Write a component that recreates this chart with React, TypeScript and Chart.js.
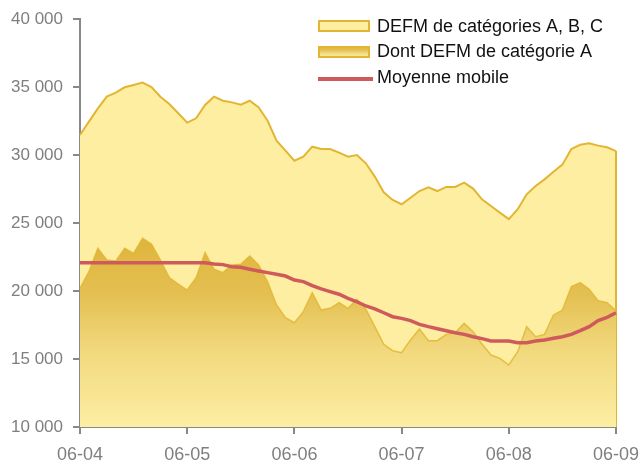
import React, { useEffect, useRef } from 'react';
import { Chart, registerables } from 'chart.js';

Chart.register(...registerables);

const months = [
  '06-04', '07-04', '08-04', '09-04', '10-04', '11-04', '12-04', '01-05', '02-05', '03-05', '04-05', '05-05',
  '06-05', '07-05', '08-05', '09-05', '10-05', '11-05', '12-05', '01-06', '02-06', '03-06', '04-06', '05-06',
  '06-06', '07-06', '08-06', '09-06', '10-06', '11-06', '12-06', '01-07', '02-07', '03-07', '04-07', '05-07',
  '06-07', '07-07', '08-07', '09-07', '10-07', '11-07', '12-07', '01-08', '02-08', '03-08', '04-08', '05-08',
  '06-08', '07-08', '08-08', '09-08', '10-08', '11-08', '12-08', '01-09', '02-09', '03-09', '04-09', '05-09',
  '06-09',
];

const defmABC = [
  31470, 32450, 33430, 34290, 34580, 34980, 35150, 35320, 35000, 34290, 33750, 33070,
  32380, 32700, 33680, 34290, 33990, 33870, 33700, 33990, 33500, 32520, 31050, 30320,
  29580, 29880, 30610, 30440, 30440, 30180, 29880, 30000, 29390, 28410, 27260, 26690,
  26380, 26860, 27350, 27620, 27350, 27650, 27650, 27970, 27530, 26740, 26250, 25760,
  25290, 26010, 27110, 27720, 28210, 28770, 29290, 30440, 30760, 30860, 30690, 30570,
  30290,
];

const defmA = [
  20200, 21420, 23140, 22280, 22200, 23140, 22770, 23870, 23460, 22280, 20980, 20510,
  20070, 20980, 22820, 21600, 21350, 21910, 21960, 22570, 21910, 20680, 18970, 18040,
  17670, 18480, 19880, 18600, 18730, 19140, 18730, 19390, 18650, 17380, 16080, 15610,
  15460, 16400, 17210, 16350, 16350, 16810, 16930, 17620, 17010, 16100, 15290, 15050,
  14560, 15540, 17380, 16640, 16810, 18240, 18600, 20320, 20610, 20120, 19290, 19140,
  18550,
];

const movingAvg = [
  22080, 22080, 22080, 22080, 22080, 22080, 22080, 22080, 22080, 22080, 22080, 22080,
  22080, 22080, 22080, 21980, 21940, 21790, 21740, 21600, 21470, 21350, 21230, 21100,
  20810, 20690, 20390, 20150, 19950, 19760, 19460, 19210, 18900, 18680, 18400, 18110,
  17990, 17820, 17550, 17380, 17230, 17080, 16930, 16810, 16640, 16500, 16320, 16320,
  16320, 16200, 16200, 16320, 16400, 16520, 16640, 16810, 17080, 17380, 17820, 18060,
  18400,
];

const seriesNames = ['DEFM de catégories A, B, C', 'Dont DEFM de catégorie A', 'Moyenne mobile'];

const GOLD = '#E2B633';
const LIGHT = '#FDEEA1';
const RED = '#CE5A5C';
const AXIS = '#888888';
const TICK_TEXT = '#7F7F7F';
const FONT = "'Liberation Sans', Arial, sans-serif";

function makeInnerGradient(ctx: CanvasRenderingContext2D, top: number, bottom: number) {
  const g = ctx.createLinearGradient(0, top, 0, bottom);
  g.addColorStop(0, '#DFB43C');
  g.addColorStop(0.3, '#E4C052');
  g.addColorStop(0.6, '#F2D97E');
  g.addColorStop(1, '#FCEEA3');
  return g;
}

const edgePlugin = {
  id: 'edgeLine',
  afterDatasetDraw(chart: any, args: any) {
    if (args.index !== 2) return;
    const meta = chart.getDatasetMeta(2);
    const last = meta.data[meta.data.length - 1];
    if (!last) return;
    const ctx = chart.ctx;
    ctx.save();
    ctx.strokeStyle = GOLD;
    ctx.lineWidth = 2;
    ctx.beginPath();
    ctx.moveTo(last.x, last.y);
    ctx.lineTo(last.x, chart.chartArea.bottom);
    ctx.stroke();
    ctx.restore();
  },
};

const legendPlugin = {
  id: 'customLegend',
  afterDraw(chart: any) {
    const ctx = chart.ctx as CanvasRenderingContext2D;
    ctx.save();
    const bx = 319;
    const bw = 50;
    const tx = 377;
    ctx.font = `18px ${FONT}`;
    ctx.textBaseline = 'alphabetic';
    ctx.textAlign = 'left';

    ctx.fillStyle = LIGHT;
    ctx.fillRect(bx, 21, bw, 10);
    ctx.strokeStyle = GOLD;
    ctx.lineWidth = 2;
    ctx.strokeRect(bx, 21, bw, 10);
    ctx.fillStyle = '#111111';
    ctx.fillText(seriesNames[0], tx, 31.5);

    ctx.fillStyle = makeInnerGradient(ctx, 47, 57);
    ctx.fillRect(bx, 47, bw, 10);
    ctx.strokeStyle = GOLD;
    ctx.strokeRect(bx, 47, bw, 10);
    ctx.fillStyle = '#111111';
    ctx.fillText(seriesNames[1], tx, 57.3);

    ctx.strokeStyle = RED;
    ctx.lineWidth = 4;
    ctx.beginPath();
    ctx.moveTo(318, 79);
    ctx.lineTo(373, 79);
    ctx.stroke();
    ctx.fillStyle = '#111111';
    ctx.fillText(seriesNames[2], tx, 83);
    ctx.restore();
  },
};

export default function App() {
  const ref = useRef<HTMLCanvasElement | null>(null);

  useEffect(() => {
    if (!ref.current) return;
    const chart = new Chart(ref.current, {
      type: 'line',
      data: {
        labels: months,
        datasets: [
          {
            label: seriesNames[2],
            data: movingAvg,
            borderColor: RED,
            borderWidth: 3.5,
            fill: false,
            pointRadius: 0,
            tension: 0,
            order: 0,
          },
          {
            label: seriesNames[1],
            data: defmA,
            borderColor: 'rgba(226,182,50,0.85)',
            borderWidth: 1.5,
            fill: 'start',
            backgroundColor: (c: any) => {
              const ch = c.chart;
              const area = ch.chartArea;
              if (!area) return '#E4C052';
              const top = ch.scales.y.getPixelForValue(Math.max(...defmA));
              return makeInnerGradient(ch.ctx, top, area.bottom);
            },
            pointRadius: 0,
            tension: 0,
            order: 1,
          },
          {
            label: seriesNames[0],
            data: defmABC,
            borderColor: GOLD,
            borderWidth: 2,
            fill: 'start',
            backgroundColor: LIGHT,
            pointRadius: 0,
            tension: 0,
            order: 2,
          },
        ],
      },
      options: {
        animation: false,
        responsive: true,
        maintainAspectRatio: false,
        layout: { padding: { top: 19, right: 24, left: 0, bottom: 0 } },
        plugins: {
          legend: { display: false },
          tooltip: { enabled: false },
        },
        scales: {
          x: {
            type: 'category',
            offset: false,
            afterFit: (s: any) => {
              s.height = 37;
              s.paddingLeft = 0;
              s.paddingRight = 0;
            },
            border: { display: true, color: AXIS, width: 2 },
            grid: {
              display: true,
              drawOnChartArea: false,
              drawTicks: true,
              tickLength: 7,
              tickWidth: 2,
              lineWidth: 2,
              tickColor: (c: any) => (c.index % 12 === 0 ? AXIS : 'rgba(0,0,0,0)'),
            },
            ticks: {
              autoSkip: false,
              maxRotation: 0,
              minRotation: 0,
              padding: 10,
              color: TICK_TEXT,
              font: { family: FONT, size: 18 },
              callback: (_v: any, i: number) => (i % 12 === 0 ? months[i] : ''),
            },
          },
          y: {
            min: 10000,
            max: 40000,
            afterFit: (s: any) => {
              s.width = 80;
              s.paddingTop = 0;
              s.paddingBottom = 0;
            },
            border: { display: true, color: AXIS, width: 2 },
            grid: {
              display: true,
              drawOnChartArea: false,
              drawTicks: true,
              tickLength: 7,
              tickWidth: 2,
              lineWidth: 2,
              tickColor: AXIS,
            },
            ticks: {
              stepSize: 5000,
              padding: 10,
              color: TICK_TEXT,
              font: { family: FONT, size: 17 },
              callback: (v: any) => `${Math.round(Number(v) / 1000)} 000`,
            },
          },
        },
      },
      plugins: [edgePlugin, legendPlugin],
    } as any);
    return () => chart.destroy();
  }, []);

  return (
    <div style={{ position: 'absolute', left: 0, top: 0, width: 640, height: 464 }}>
      <canvas ref={ref} />
    </div>
  );
}
